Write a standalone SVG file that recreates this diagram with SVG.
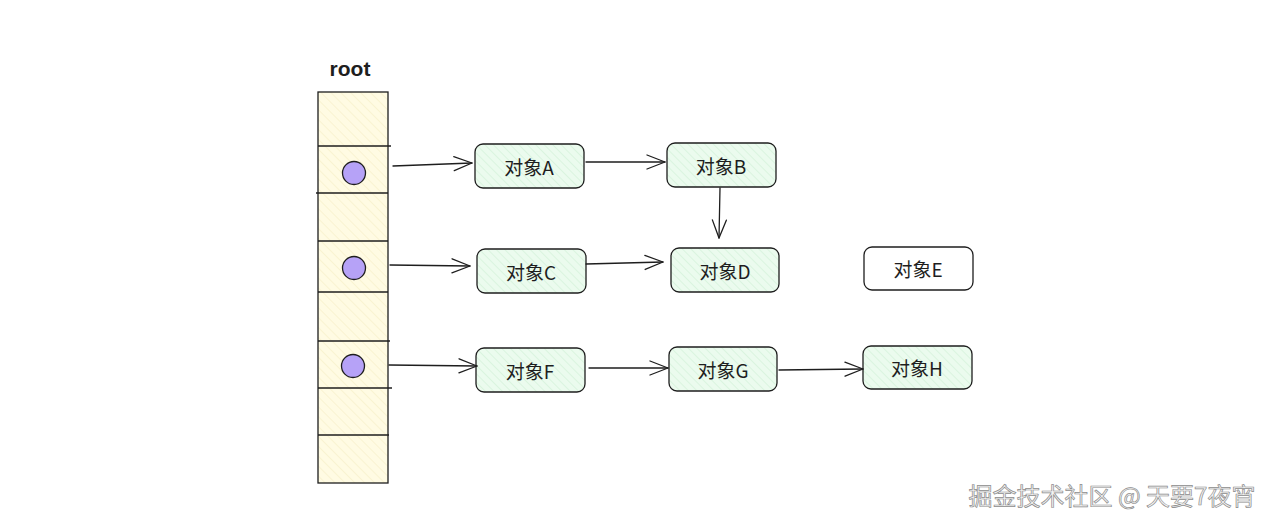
<svg xmlns="http://www.w3.org/2000/svg" width="1280" height="526" viewBox="0 0 1280 526">
<style>
.box{stroke:#1e1e1e;stroke-width:1.3}
.node rect{fill:url(#hg);stroke:#1e1e1e;stroke-width:1.3}
.lbl{font-family:"Noto Sans CJK SC","Liberation Sans",sans-serif;font-size:19px;fill:#1e1e1e;text-anchor:middle;dominant-baseline:central}
.conn path{fill:none;stroke:#1e1e1e;stroke-width:1.3;stroke-linecap:round}
.dot{fill:#b6a2f7;stroke:#1e1e1e;stroke-width:1.3}
</style>
<defs>
<pattern id="hg" width="6" height="6" patternUnits="userSpaceOnUse" patternTransform="rotate(-45)">
<rect width="6" height="6" fill="#ebfbee"/>
<line x1="0" y1="0" x2="0" y2="6" stroke="#c9eed1" stroke-width="1"/>
</pattern>
<pattern id="hy" width="7" height="7" patternUnits="userSpaceOnUse" patternTransform="rotate(-45)">
<rect width="7" height="7" fill="#fffbe3"/>
<line x1="0" y1="0" x2="0" y2="7" stroke="#f4ecc0" stroke-width="1"/>
</pattern>
<marker id="ah" viewBox="0 0 20 20" refX="19" refY="10" markerWidth="20" markerHeight="20" markerUnits="userSpaceOnUse" orient="auto">
<path d="M1,3 L19,10 L1,17" fill="none" stroke="#1e1e1e" stroke-width="1.3" stroke-linecap="round" stroke-linejoin="round"/>
</marker>
</defs>
<rect width="1280" height="526" fill="#ffffff"/>

<g id="root">
<text x="350" y="68" font-family="'Liberation Sans',sans-serif" font-size="21" font-weight="bold" fill="#1e1e1e" text-anchor="middle" dominant-baseline="central">root</text>
<rect x="318" y="92" width="70" height="391" fill="url(#hy)" class="box"/>
<g stroke="#1e1e1e" stroke-width="1.3">
<line x1="318" y1="146" x2="391" y2="146"/>
<line x1="316" y1="193" x2="388" y2="193"/>
<line x1="318" y1="241" x2="388" y2="241"/>
<line x1="318" y1="292" x2="388" y2="292"/>
<line x1="318" y1="341" x2="390" y2="341"/>
<line x1="318" y1="388" x2="392" y2="388"/>
<line x1="318" y1="435" x2="389" y2="435"/>
</g>
<circle class="dot" cx="354" cy="173" r="11.5"/>
<circle class="dot" cx="354" cy="268" r="11.5"/>
<circle class="dot" cx="353" cy="366" r="11.5"/>
</g>

<g id="nodeA" class="node"><rect x="475" y="144" width="109" height="44" rx="8"/><text class="lbl" x="529" y="166">对象A</text></g>
<g id="nodeB" class="node"><rect x="667" y="143" width="109" height="44" rx="8"/><text class="lbl" x="721" y="165">对象B</text></g>
<g id="nodeC" class="node"><rect x="477" y="249" width="109" height="44" rx="8"/><text class="lbl" x="531" y="271">对象C</text></g>
<g id="nodeD" class="node"><rect x="671" y="248" width="108" height="44" rx="8"/><text class="lbl" x="725" y="270">对象D</text></g>
<g id="nodeE"><rect x="864" y="247" width="109" height="43" rx="8" fill="#ffffff" class="box"/><text class="lbl" x="918" y="268">对象E</text></g>
<g id="nodeF" class="node"><rect x="476" y="348" width="109" height="44" rx="8"/><text class="lbl" x="530" y="370">对象F</text></g>
<g id="nodeG" class="node"><rect x="669" y="347" width="108" height="44" rx="8"/><text class="lbl" x="723" y="369">对象G</text></g>
<g id="nodeH" class="node"><rect x="863" y="346" width="109" height="43" rx="8"/><text class="lbl" x="917" y="367">对象H</text></g>

<g id="connectors" class="conn">
<path d="M393,166 L472,163" marker-end="url(#ah)"/>
<path d="M390,265 L470,266" marker-end="url(#ah)"/>
<path d="M389,365 L477,366" marker-end="url(#ah)"/>
<path d="M586,162 L665,162" marker-end="url(#ah)"/>
<path d="M720,188 L719,238" marker-end="url(#ah)"/>
<path d="M586,264 L663,262" marker-end="url(#ah)"/>
<path d="M589,368 L668,368" marker-end="url(#ah)"/>
<path d="M779,370 L863,369" marker-end="url(#ah)"/>
</g>

<text x="1112" y="494" font-family="'Noto Sans CJK SC','Liberation Sans',sans-serif" font-size="24" fill="#f4f4f4" stroke="#8c8c8c" stroke-width="0.7" text-anchor="middle" dominant-baseline="central">掘金技术社区 @ 天要7夜宵</text>
</svg>
